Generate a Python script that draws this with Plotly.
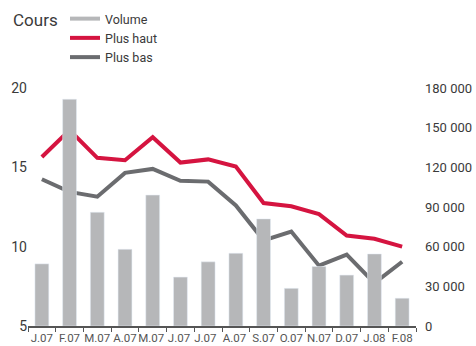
import plotly.graph_objects as go

# Monthly share data, Jan 2007 - Feb 2008
months = ["J.07", "F.07", "M.07", "A.07", "M.07 ", "J.07 ", "J.07  ", "A.07 ",
          "S.07", "O.07", "N.07", "D.07", "J.08", "F.08"]
volume = [47000, 171500, 86000, 58000, 99000, 37000, 48500, 55000,
          81000, 28500, 45000, 38500, 54500, 21000]
plus_haut = [15.65, 17.35, 15.6, 15.45, 16.9, 15.3, 15.5, 15.05,
             12.75, 12.55, 12.05, 10.7, 10.5, 10.0]
plus_bas = [14.25, 13.45, 13.15, 14.65, 14.9, 14.15, 14.1, 12.6,
            10.4, 10.95, 8.8, 9.5, 7.7, 9.05]

left_ticks = [5, 10, 15, 20]
right_ticks = [0, 30000, 60000, 90000, 120000, 150000, 180000]
right_labels = ["0", "30 000", "60 000", "90 000", "120 000", "150 000", "180 000"]

BAR = "#b6b7b9"
RED = "#d51440"
DARK = "#6b6c6f"
TXT = "#3a3a3a"

W, H = 476, 346
L, R, T, B = 28, 60, 88, 20
PW, PH = W - L - R, H - T - B

fig = go.Figure()
fig.add_trace(go.Bar(x=months, y=volume, yaxis="y2", marker_color=BAR,
                     width=0.5, showlegend=False, name="Volume"))
# line entry used only for the legend swatch of the volume bars
fig.add_trace(go.Scatter(x=[None], y=[None], mode="lines", name="Volume",
                         line=dict(color=BAR, width=4)))
fig.add_trace(go.Scatter(x=months, y=plus_haut, mode="lines", name="Plus haut",
                         line=dict(color=RED, width=4)))
fig.add_trace(go.Scatter(x=months, y=plus_bas, mode="lines", name="Plus bas",
                         line=dict(color=DARK, width=4)))

fig.update_layout(
    width=W, height=H,
    margin=dict(l=L, r=R, t=T, b=B, autoexpand=False),
    paper_bgcolor="white", plot_bgcolor="white",
    font=dict(family="Roboto, sans-serif", color=TXT),
    showlegend=True,
    legend=dict(x=(65 - L) / PW, xanchor="left", y=1 + (T - 4) / PH,
                yanchor="top", font=dict(size=12.5, color=TXT), tracegroupgap=0,
                bgcolor="rgba(0,0,0,0)", itemwidth=30),
    xaxis=dict(type="category", showgrid=False, showline=True, linecolor="#555",
               linewidth=1.5, ticks="outside", tickson="boundaries", ticklen=4,
               tickcolor="#555", tickangle=0, automargin=False,
               tickfont=dict(family="Roboto, sans-serif", size=11.5, color="#555"),
               range=[-0.5, 13.5]),
    yaxis=dict(range=[5, 20], tickvals=left_ticks, showgrid=False, zeroline=False,
               showline=False, ticks="", automargin=False,
               tickfont=dict(size=14, color=TXT)),
    yaxis2=dict(range=[0, 180000], tickvals=right_ticks, ticktext=right_labels,
                overlaying="y", side="right", showgrid=False, zeroline=False,
                showline=False, ticks="", automargin=False, ticklabelstandoff=8,
                tickfont=dict(size=13, color=TXT)),
)
fig.add_annotation(text="Cours", xref="paper", yref="paper",
                   x=-(L - 11) / PW, y=1 + (T - 20) / PH, xanchor="left", yanchor="middle",
                   showarrow=False, font=dict(size=17, color=TXT))

fig.write_html("out.html")
